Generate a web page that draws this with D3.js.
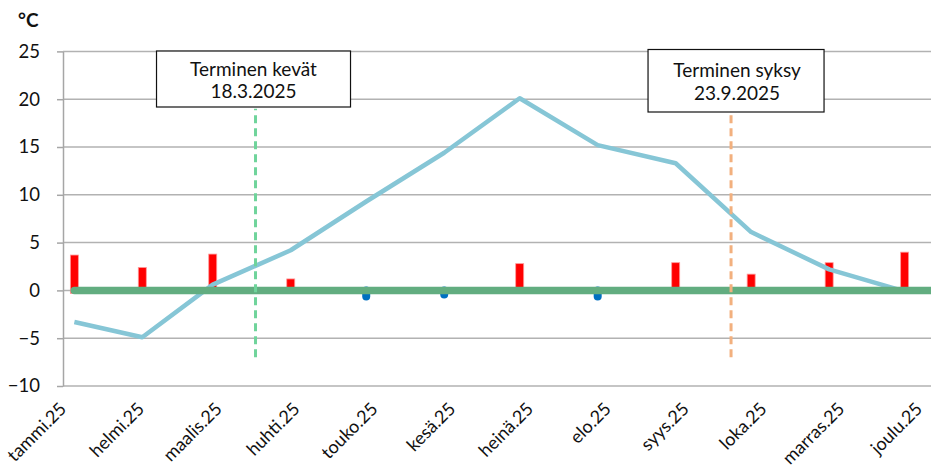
<!DOCTYPE html>
<html><head><meta charset="utf-8">
<script src="https://cdn.jsdelivr.net/npm/d3@7"></script>
<style>
html,body{margin:0;padding:0;background:#fff;}
svg{display:block;font-family:Lato,"Noto Sans",sans-serif;}
</style></head>
<body><svg id="c" width="931" height="468"></svg>
<script>
// ---- data ----
const monthLabels = ["tammi.25","helmi.25","maalis.25","huhti.25","touko.25","kesä.25","heinä.25","elo.25","syys.25","loka.25","marras.25","joulu.25"];
const obsDates = ["2025-01-05","2025-02-01","2025-03-01","2025-04-01","2025-05-01","2025-06-01","2025-07-01","2025-08-01","2025-09-01","2025-10-01","2025-11-01","2025-12-01"];
const meanTemp = [-3.3, -4.9, 0.6, 4.2, 9.3, 14.4, 20.1, 15.2, 13.3, 6.1, 2.2, -0.1];
const deviation = [3.7, 2.4, 3.8, 1.2, -1.0, -0.8, 2.8, -1.0, 2.9, 1.7, 2.9, 4.0];
const yTicks = [-10, -5, 0, 5, 10, 15, 20, 25];
const eventDates = ["2025-03-18", "2025-09-23"];
const eventLabels = [["Terminen kevät", "18.3.2025"], ["Terminen syksy", "23.9.2025"]];
const yUnit = "°C";

// ---- layout ----
const svg = d3.select("#c");
const parse = d3.timeParse("%Y-%m-%d");
const dayPx = 2.516;
const x0 = 64.3;
const x = d3.scaleTime()
  .domain([new Date(2025,0,1), new Date(2026,0,1)])
  .range([x0, x0 + 365*dayPx]);
const y = d3.scaleLinear().domain([-10, 25]).range([386, 51.4]);
const xl = d3.scalePoint().domain(monthLabels).range([67.5, 923.5]);
const plotLeft = 63, plotRight = 931;

// gridlines
svg.append("g").selectAll("line").data(yTicks).join("line")
  .attr("x1", plotLeft).attr("x2", plotRight)
  .attr("y1", d => y(d)).attr("y2", d => y(d))
  .attr("stroke", "#b2b2b2").attr("stroke-width", 1.5);

// y axis
const ya = svg.append("g").attr("transform", `translate(${plotLeft},0)`)
  .call(d3.axisLeft(y).tickValues(yTicks).tickSizeInner(6).tickSizeOuter(0).tickPadding(17));
ya.select(".domain").attr("stroke", "#a6a6a6").attr("stroke-width", 1.5);
ya.selectAll(".tick line").attr("stroke", "#a6a6a6").attr("stroke-width", 1.5);
ya.selectAll(".tick text").attr("font-size", 18.5).attr("fill", "#111").attr("font-family", "Lato");

svg.append("text").attr("x", 18).attr("y", 27).text(yUnit)
  .attr("font-size", 19).attr("font-weight", "bold").attr("fill", "#111");

// x labels
svg.append("g").selectAll("text").data(monthLabels).join("text")
  .attr("transform", d => `translate(${xl(d)},${410}) rotate(-45)`)
  .attr("text-anchor", "end")
  .attr("font-size", 18).attr("fill", "#111")
  .text(d => d);

const rows = obsDates.map((d, i) => ({date: parse(d), t: meanTemp[i], dev: deviation[i]}));

// deviation bars
const bw = 8;
svg.append("g").selectAll("rect").data(rows).join("rect")
  .attr("x", d => x(d.date) - bw/2)
  .attr("width", bw)
  .attr("y", d => d.dev >= 0 ? y(d.dev) : y(0) - 4)
  .attr("height", d => d.dev >= 0 ? y(0) - y(d.dev) + 3 : y(d.dev) - y(0) + 4.5)
  .attr("rx", d => d.dev >= 0 ? 0 : 4)
  .attr("fill", d => d.dev >= 0 ? "#ff0000" : "#0070c0")
  .attr("stroke", d => d.dev >= 0 ? "#ff9a9a" : "none")
  .attr("stroke-width", 0.8);

// mean temperature line
svg.append("path").datum(rows)
  .attr("d", d3.line().x(d => x(d.date)).y(d => y(d.t)))
  .attr("fill", "none").attr("stroke", "#86c6d6").attr("stroke-width", 4.5)
  .attr("stroke-linejoin", "round");

// zero line
svg.append("path").datum([rows[0].date, x.domain()[1]])
  .attr("d", d3.line().x(d => x(d)).y(() => y(0)))
  .attr("stroke", "#62ad80").attr("stroke-width", 7.5).attr("stroke-linecap", "round");

// event dashed lines
const evColors = ["#6fd49b", "#f2b07e"];
svg.append("g").selectAll("line").data(eventDates).join("line")
  .attr("x1", d => x(parse(d))).attr("x2", d => x(parse(d)))
  .attr("y1", y(-7)).attr("y2", y(19))
  .attr("stroke", (d, i) => evColors[i]).attr("stroke-width", 3)
  .attr("stroke-dasharray", "8,5");

// event boxes
const boxGeom = [{l: -99, r: 95, t: 51, b: 107, cx: -2, b1: 76, b2: 97.5},
                 {l: -83, r: 93, t: 49.5, b: 112, cx: 6, b1: 77, b2: 100}];
eventDates.forEach((d, i) => {
  const ex = x(parse(d)), g = boxGeom[i];
  svg.append("rect").attr("x", ex + g.l).attr("y", g.t)
    .attr("width", g.r - g.l).attr("height", g.b - g.t)
    .attr("fill", "#fff").attr("stroke", "#111").attr("stroke-width", 1.2);
  svg.append("text").attr("x", ex + g.cx).attr("y", g.b1).attr("text-anchor", "middle")
    .attr("font-size", 19).attr("fill", "#111").text(eventLabels[i][0]);
  svg.append("text").attr("x", ex + g.cx).attr("y", g.b2).attr("text-anchor", "middle")
    .attr("font-size", 19).attr("fill", "#111").text(eventLabels[i][1]);
});
</script></body></html>
